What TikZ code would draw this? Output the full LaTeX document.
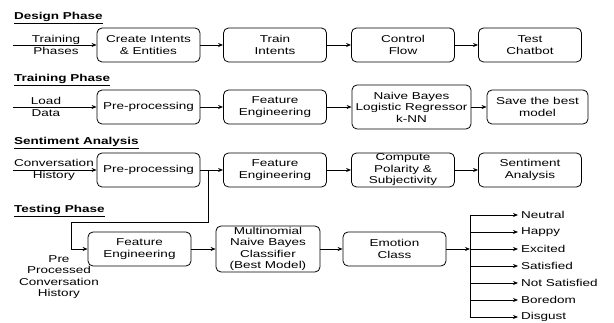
\documentclass[tikz,border=0pt]{standalone}
\usepackage{fontspec}
\setmainfont{Liberation Sans}[FakeStretch=1.35]
\usetikzlibrary{arrows.meta}

\tikzset{
  stage/.style={draw, rounded corners=5pt, line width=0.8pt, minimum width=103pt, minimum height=34pt, align=center, inner sep=1pt},
  flow/.style={line width=0.8pt, -{Stealth[length=5pt,width=4pt]}},
  phase/.style={anchor=base west, inner sep=0pt, font=\bfseries},
  port/.style={align=center, inner sep=0pt},
}

\begin{document}
\begin{tikzpicture}[x=1pt,y=-1pt]

\def\ya{45}
\def\yb{107}
\def\yc{170}
\def\yd{249}

\fontsize{10}{11.5}\selectfont
\path [use as bounding box] (0,0) rectangle (614,323);

% DESIGN PHASE
\node [phase] (design) at (14,20) {\underline{Design Phase}};
\coordinate (in1) at (13,\ya);
\node [port] (lbl1) at (56,\ya) {Training\\Phases};
\node [stage] (create) at (148.5,\ya) {Create Intents\\\& Entities};
\node [stage] (train) at (275,\ya) {Train\\Intents};
\node [stage] (control) at (403,\ya) {Control\\Flow};
\node [stage] (test) at (530,\ya) {Test\\Chatbot};
\draw [flow] (in1) -- (create);
\draw [flow] (create) -- (train);
\draw [flow] (train) -- (control);
\draw [flow] (control) -- (test);

% TRAINING PHASE
\node [phase] (training) at (14,82) {\underline{Training Phase}};
\coordinate (in2) at (13,\yb);
\node [port] (lbl2) at (46,\yb) {Load\\Data};
\node [stage] (pre2) at (148.5,\yb) {Pre-processing};
\node [stage] (fe2) at (275,\yb) {Feature\\Engineering};
\node [stage, minimum width=119pt, minimum height=44pt] (models) at (411.5,\yb) {Naive Bayes\\Logistic Regressor\\k-NN};
\node [stage, minimum width=101pt] (save) at (537.5,\yb) {Save the best\\model};
\draw [flow] (in2) -- (pre2);
\draw [flow] (pre2) -- (fe2);
\draw [flow] (fe2) -- (models);
\draw [flow] (models) -- (save);

% SENTIMENT ANALYSIS
\node [phase] (sentiment) at (14,145) {\underline{Sentiment Analysis}};
\coordinate (in3) at (13,\yc);
\node [port] (lbl3) at (54,\yc) {Conversation\\History};
\node [stage] (pre3) at (148.5,\yc) {Pre-processing};
\node [stage] (fe3) at (275,\yc) {Feature\\Engineering};
\node [stage] (polarity) at (403,\yc) {Compute\\Polarity \&\\Subjectivity};
\node [stage] (senti) at (530,\yc) {Sentiment\\Analysis};
\draw [flow] (in3) -- (pre3);
\draw [flow] (pre3) -- (fe3);
\draw [flow] (fe3) -- (polarity);
\draw [flow] (polarity) -- (senti);

% TESTING PHASE
\node [phase] (testing) at (14,213) {\underline{Testing Phase}};
\coordinate (split) at (208,\yc);
\coordinate (turn) at (71,222);
\node [port] (lbl4) at (59,277) {Pre\\Processed\\Conversation\\History};
\node [stage] (fe4) at (139.5,\yd) {Feature\\Engineering};
\node [stage, minimum width=104pt, minimum height=46pt] (mnb) at (268,\yd) {Multinomial\\Naive Bayes\\Classifier\\(Best Model)};
\node [stage] (emotion) at (394.5,\yd) {Emotion\\Class};
\draw [flow] (split) |- (turn) |- (fe4);
\draw [flow] (fe4) -- (mnb);
\draw [flow] (mnb) -- (emotion);

% EMOTIONS
\coordinate (bus) at (470,\yd);
\foreach \emo [count=\i] in {Neutral, Happy, Excited, Satisfied, Not Satisfied, Boredom, Disgust} {
  \node [anchor=west, inner sep=0pt] (emo\i) at (521,198+17*\i) {\emo};
  \draw [flow] (bus |- emo\i) -- ([xshift=-3pt]emo\i.west);
}
\draw [line width=0.8pt] (bus |- emo1) -- (bus |- emo7);
\draw [flow] (emotion) -- (bus);

\end{tikzpicture}
\end{document}
